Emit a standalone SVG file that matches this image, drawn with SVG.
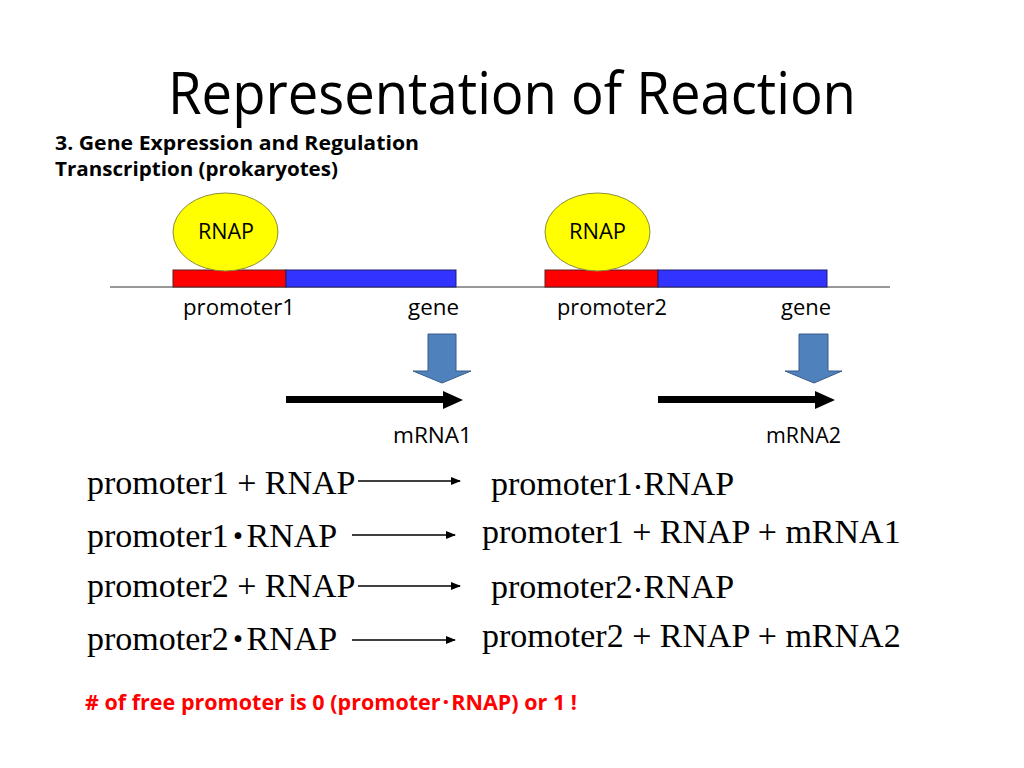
<svg xmlns="http://www.w3.org/2000/svg" width="1024" height="768" viewBox="0 0 1024 768">
<defs>
<style>
.sans{font-family:"Open Sans","Noto Sans","Noto Sans CJK JP",sans-serif;fill:#000}
.serif{font-family:"Liberation Serif","Noto Sans CJK JP",serif;font-size:34px;fill:#000}
.dot{font-family:"Noto Sans CJK JP",sans-serif;font-weight:900}
.lbl{font-size:22px}
.rnap{fill:#FFFF00;stroke:#8C8C3C;stroke-width:1}
.prom{fill:#FF0000;stroke:#5A1E1E;stroke-width:1}
.gene{fill:#3333FF;stroke:#1E1E6E;stroke-width:1}
.blk{fill:#4F81BD;stroke:#385D8A;stroke-width:1}
.rx{stroke:#000;stroke-width:1.3;fill:none;marker-end:url(#ah)}
</style>
<marker id="ah" markerWidth="10" markerHeight="8" refX="9" refY="4" orient="auto" markerUnits="userSpaceOnUse">
<path d="M0,0 L10,4 L0,8 Z" fill="#000"/>
</marker>
</defs>
<rect width="1024" height="768" fill="#fff"/>

<g id="title">
<text class="sans" x="168" y="114" font-size="58" textLength="688" lengthAdjust="spacingAndGlyphs">Representation of Reaction</text>
</g>
<g id="subtitle">
<text class="sans" x="55" y="150" font-size="19" font-weight="bold" textLength="364" lengthAdjust="spacingAndGlyphs">3. Gene Expression and Regulation</text>
<text class="sans" x="55" y="176" font-size="19" font-weight="bold" textLength="283" lengthAdjust="spacingAndGlyphs">Transcription (prokaryotes)</text>
</g>

<g id="dna">
<line x1="110" y1="287" x2="890" y2="287" stroke="#333" stroke-width="1"/>
</g>

<g id="promoter1">
<rect class="prom" x="173" y="270" width="113" height="17"/>
<text class="sans lbl" x="183" y="315" textLength="112" lengthAdjust="spacingAndGlyphs">promoter1</text>
</g>
<g id="gene1">
<rect class="gene" x="286" y="270" width="170" height="17"/>
<text class="sans lbl" x="408" y="315" textLength="51" lengthAdjust="spacingAndGlyphs">gene</text>
</g>
<g id="rnap1">
<ellipse class="rnap" cx="225.5" cy="232" rx="52.5" ry="39"/>
<text class="sans" x="198" y="239" font-size="21" textLength="56" lengthAdjust="spacingAndGlyphs">RNAP</text>
</g>
<g id="promoter2">
<rect class="prom" x="545" y="270" width="113" height="17"/>
<text class="sans lbl" x="557" y="315" textLength="110" lengthAdjust="spacingAndGlyphs">promoter2</text>
</g>
<g id="gene2">
<rect class="gene" x="658" y="270" width="169" height="17"/>
<text class="sans lbl" x="781" y="315" textLength="50" lengthAdjust="spacingAndGlyphs">gene</text>
</g>
<g id="rnap2">
<ellipse class="rnap" cx="597.5" cy="232" rx="52.5" ry="39"/>
<text class="sans" x="569" y="239" font-size="21" textLength="57" lengthAdjust="spacingAndGlyphs">RNAP</text>
</g>

<g id="transcribe1">
<path class="blk" d="M428,334 H456 V371 H471 L442,383 L413,371 H428 Z"/>
</g>
<g id="transcribe2">
<path class="blk" d="M799,334 H828 V371 H842 L814,383 L785,371 H799 Z"/>
</g>

<g id="mrna1">
<path d="M286,396 H443 V391 L463,400 L443,409 V403 H286 Z" fill="#000"/>
<text class="sans lbl" x="393" y="443" textLength="79" lengthAdjust="spacingAndGlyphs">mRNA1</text>
</g>
<g id="mrna2">
<path d="M658,396 H815 V391 L835,400 L815,409 V403 H658 Z" fill="#000"/>
<text class="sans lbl" x="766" y="443" textLength="75" lengthAdjust="spacingAndGlyphs">mRNA2</text>
</g>

<g id="connectors">
<line class="rx" x1="358" y1="481" x2="460" y2="481"/>
<line class="rx" x1="352" y1="535" x2="455" y2="535"/>
<line class="rx" x1="358" y1="586" x2="460" y2="586"/>
<line class="rx" x1="352" y1="640" x2="455" y2="640"/>
</g>

<g id="reactions-left">
<text class="serif" x="87" y="494">promoter1 + RNAP</text>
<text class="serif" x="87" y="547">promoter1<tspan class="dot" x="230" dy="1" font-size="32">･</tspan><tspan x="246.5" dy="-1">RNAP</tspan></text>
<text class="serif" x="87" y="597">promoter2 + RNAP</text>
<text class="serif" x="87" y="650">promoter2<tspan class="dot" x="230" dy="1" font-size="32">･</tspan><tspan x="246.5" dy="-1">RNAP</tspan></text>
</g>
<g id="reactions-right">
<text class="serif" x="491" y="495">promoter1<tspan class="dot" x="633" font-size="20">･</tspan><tspan x="643.5">RNAP</tspan></text>
<text class="serif" x="482" y="543">promoter1 + RNAP + mRNA1</text>
<text class="serif" x="491" y="598">promoter2<tspan class="dot" x="633" font-size="20">･</tspan><tspan x="643.5">RNAP</tspan></text>
<text class="serif" x="482" y="647">promoter2 + RNAP + mRNA2</text>
</g>

<g id="note">
<text class="sans" x="85" y="710" font-size="21" font-weight="bold" style="fill:#FF0000" textLength="492" lengthAdjust="spacingAndGlyphs"># of free promoter is 0 (promoter･RNAP) or 1 !</text>
</g>
</svg>
